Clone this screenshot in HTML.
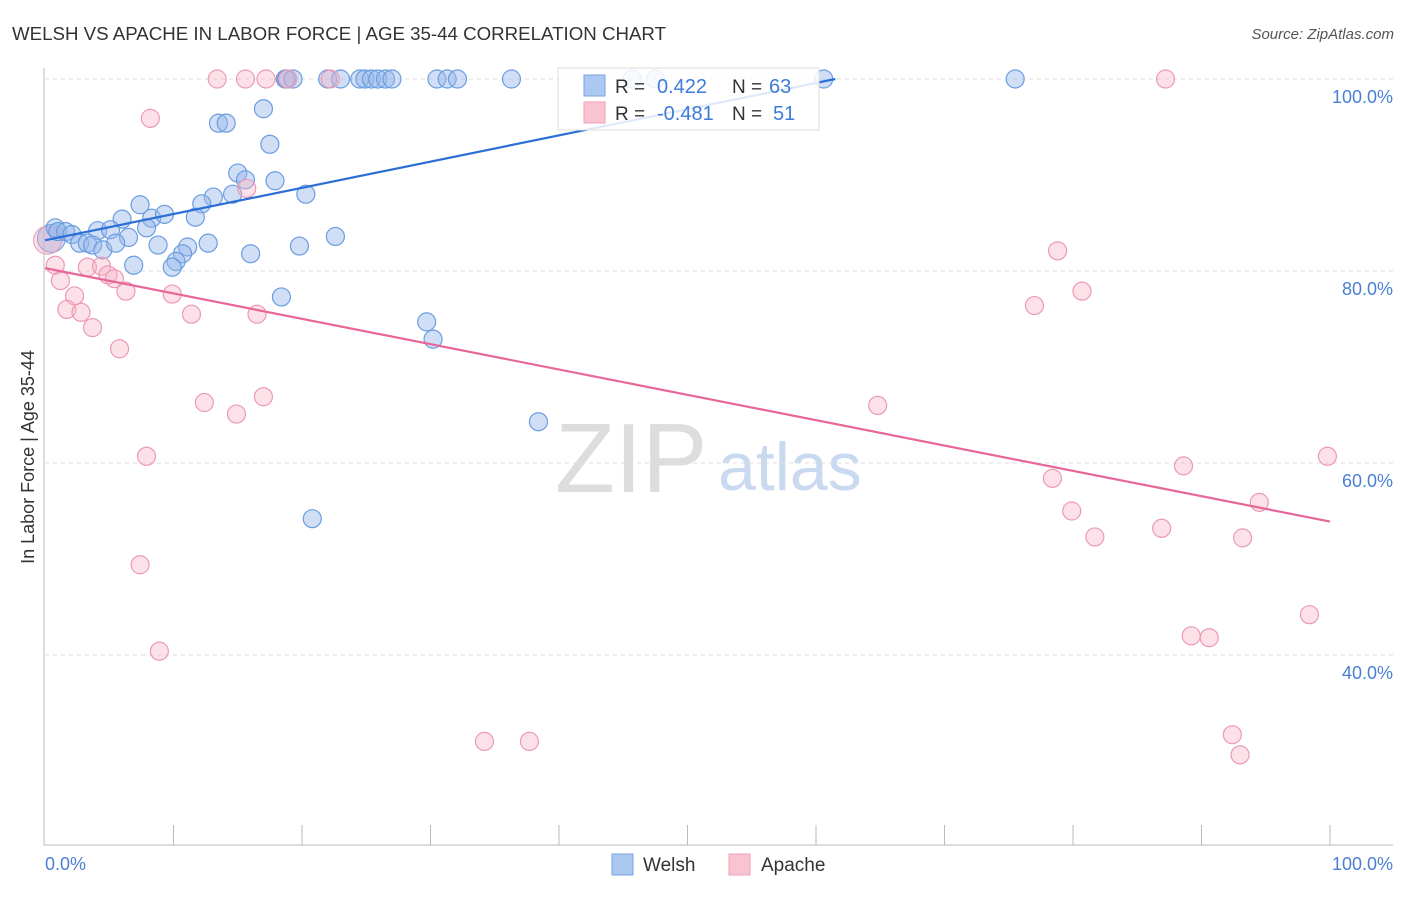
<!DOCTYPE html>
<html><head><meta charset="utf-8"><style>
body{margin:0;background:#fff;font-family:"Liberation Sans",sans-serif}
svg text{font-family:"Liberation Sans",sans-serif}
</style></head><body>
<svg id="c" width="1406" height="892">
<text x="12" y="40" font-size="18" fill="#333" textLength="654" lengthAdjust="spacingAndGlyphs">WELSH VS APACHE IN LABOR FORCE | AGE 35-44 CORRELATION CHART</text>
<text x="1394" y="39" font-size="15" fill="#555" font-style="italic" text-anchor="end">Source: ZipAtlas.com</text>
<text x="555" y="492" font-size="98" fill="#ddd" font-family="Liberation Serif">ZIP</text>
<text x="718" y="490" font-size="68" fill="#c9d9f0">atlas</text>
<g id="grid"></g><g id="pts"></g><g id="lines"></g>
<line x1="44" y1="68" x2="44" y2="845" stroke="#bbb"/>
<line x1="44" y1="845" x2="1393" y2="845" stroke="#bbb"/>
<text x="45" y="870" font-size="18" fill="#4a7fd4">0.0%</text>
<text x="1393" y="870" font-size="18" fill="#4a7fd4" text-anchor="end">100.0%</text>
<text transform="translate(34,457) rotate(-90)" font-size="18" fill="#333" text-anchor="middle">In Labor Force | Age 35-44</text>
<g>
<rect x="558" y="68" width="261" height="62" fill="#fff" fill-opacity="0.85" stroke="#ddd"/>
<rect x="584" y="75" width="21" height="21" fill="#aac8f0" stroke="#7aa3e0"/>
<rect x="584" y="102" width="21" height="21" fill="#f8c4d2" stroke="#f0a0b8"/>
<text x="615" y="93" font-size="19" fill="#333">R = </text><text x="657" y="93" font-size="20" fill="#3d7bd8">0.422</text>
<text x="732" y="93" font-size="19" fill="#333">N = </text><text x="769" y="93" font-size="20" fill="#3d7bd8">63</text>
<text x="615" y="120" font-size="19" fill="#333">R = </text><text x="657" y="120" font-size="20" fill="#3d7bd8">-0.481</text>
<text x="732" y="120" font-size="19" fill="#333">N = </text><text x="773" y="120" font-size="20" fill="#3d7bd8">51</text>
</g>
<g><rect x="612" y="854" width="21" height="21" fill="#aac8f0" stroke="#7aa3e0"/><text x="643" y="871" font-size="19" fill="#333">Welsh</text></g>
<g><rect x="729" y="854" width="21" height="21" fill="#f8c4d2" stroke="#f0a0b8"/><text x="761" y="871" font-size="19" fill="#333">Apache</text></g>
</svg>
<script>
const yTicks=[100,80,60,40];
const yTickLabels=["100.0%","80.0%","60.0%","40.0%"];
const xTicks=[10,20,30,40,50,60,70,80,90,100];
const welshX=[18.7,18.8,19.3,22.0,23.0,24.5,24.9,25.4,25.9,26.5,27.0,30.5,31.3,32.1,36.3,45.7,47.5,60.6,75.5,17.0,13.5,14.1,17.5,15.0,15.6,17.9,13.1,14.6,20.3,12.2,7.4,6.0,8.3,9.3,11.7,0.8,1.0,1.6,2.1,4.1,5.1,6.5,7.9,2.7,3.3,3.7,4.5,5.5,8.8,11.1,10.7,10.2,9.9,12.7,16.0,19.8,22.6,6.9,18.4,29.7,30.2,38.4,20.8];
const welshY=[100,100,100,100,100,100,100,100,100,100,100,100,100,100,100,100,100,100,100,96.9,95.4,95.4,93.2,90.2,89.5,89.4,87.7,88.0,88.0,87.0,86.9,85.4,85.5,85.9,85.6,84.5,84.1,84.1,83.8,84.2,84.3,83.5,84.5,82.9,82.9,82.7,82.2,82.9,82.7,82.5,81.8,81.0,80.4,82.9,81.8,82.6,83.6,80.6,77.3,74.7,72.9,64.3,54.2];
const apacheX=[13.4,15.6,17.2,18.9,22.2,87.2,8.2,15.7,0.8,1.2,3.3,4.4,4.9,5.4,2.3,1.7,2.8,6.3,9.9,3.7,11.4,16.5,5.8,12.4,14.9,17.0,7.9,7.4,8.9,34.2,37.7,64.8,78.8,77.0,80.7,78.4,79.9,81.7,88.6,86.9,93.2,94.5,99.8,89.2,90.6,98.4,92.4,93.0];
const apacheY=[100,100,100,100,100,100,95.9,88.6,80.6,79.0,80.4,80.5,79.6,79.2,77.4,76.0,75.7,77.9,77.6,74.1,75.5,75.5,71.9,66.3,65.1,66.9,60.7,49.4,40.4,31.0,31.0,66.0,82.1,76.4,77.9,58.4,55.0,52.3,59.7,53.2,52.2,55.9,60.7,42.0,41.8,44.2,31.7,29.6];
const welshTrend=[[0,83.2],[61.5,100]];
const apacheTrend=[[0,80.3],[100,53.9]];
const sx=v=>45+v*12.85, sy=v=>79+(100-v)*9.6;
const NS="http://www.w3.org/2000/svg";
function mk(t,a,p){const e=document.createElementNS(NS,t);for(const k in a)e.setAttribute(k,a[k]);p.appendChild(e);return e;}
const grid=document.getElementById('grid'),pts=document.getElementById('pts'),lines=document.getElementById('lines');
yTicks.forEach((t,i)=>{
 const l=mk('line',{x1:45,x2:1393,y1:sy(t),y2:sy(t),stroke:'#ddd','stroke-dasharray':'4,4'},grid);
 
 
 const tx=mk('text',{x:1393,y:sy(t)+24,'font-size':18,fill:'#4a7fd4','text-anchor':'end'},grid);
 tx.textContent=yTickLabels[i];
 
 
});
xTicks.forEach(t=>{
 const l=mk('line',{x1:sx(t),x2:sx(t),y1:825,y2:845,stroke:'#bbb'},grid);
 
 
});
function big(x,y,fill,stroke){const c=mk('circle',{cx:sx(x),cy:sy(y),r:14,fill:fill,stroke:stroke},pts);
 
 }
big(0.5,83.4,'rgba(150,185,235,0.5)','#6a9de0');
big(0.2,83.2,'rgba(240,170,195,0.4)','#ec9ab4');
welshX.forEach((x,i)=>{
 const c=mk('circle',{cx:sx(x),cy:sy(welshY[i]),r:9,fill:'rgba(150,185,235,0.45)',stroke:'#6a9de0','stroke-width':1.2},pts);
 
 
});
apacheX.forEach((x,i)=>{
 const c=mk('circle',{cx:sx(x),cy:sy(apacheY[i]),r:9,fill:'rgba(248,180,200,0.4)',stroke:'#ec9ab4','stroke-width':1.2},pts);
 
 
});
const w=mk('line',{x1:sx(welshTrend[0][0]),y1:sy(welshTrend[0][1]),x2:sx(welshTrend[1][0]),y2:sy(welshTrend[1][1]),stroke:'#2a6fd6','stroke-width':2.2},lines);


const a=mk('line',{x1:sx(apacheTrend[0][0]),y1:sy(apacheTrend[0][1]),x2:sx(apacheTrend[1][0]),y2:sy(apacheTrend[1][1]),stroke:'#e8679a','stroke-width':2.2},lines);


</script>
</body></html>
